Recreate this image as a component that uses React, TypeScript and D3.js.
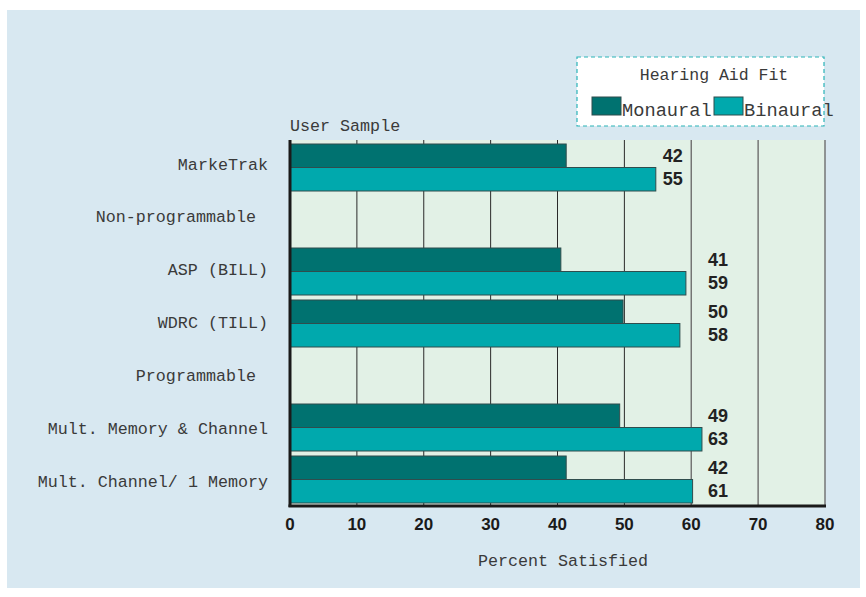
import React from "react";
import * as d3 from "d3";

const categories = [
  "MarkeTrak",
  "Non-programmable",
  "ASP (BILL)",
  "WDRC (TILL)",
  "Programmable",
  "Mult. Memory & Channel",
  "Mult. Channel/ 1 Memory",
];
const headerRows = ["Non-programmable", "Programmable"];
const series = ["Monaural", "Binaural"];
// bar lengths as drawn in the picture
const monaural: (number | null)[] = [41.3, null, 40.5, 49.8, null, 49.3, 41.3];
const binaural: (number | null)[] = [54.7, null, 59.2, 58.3, null, 61.6, 60.2];
// printed value labels
const monauralLabels = ["42", "", "41", "50", "", "49", "42"];
const binauralLabels = ["55", "", "59", "58", "", "63", "61"];
const xTicks = [0, 10, 20, 30, 40, 50, 60, 70, 80];

const colors: Record<string, string> = { Monaural: "#007270", Binaural: "#00a9ad" };
const mono = "'Liberation Mono', 'Courier New', monospace";
const sans = "'Liberation Sans', Arial, sans-serif";

export default function App() {
  const W = 866, H = 597;
  const x = d3.scaleLinear().domain([0, 80]).range([290, 825]);
  const y = d3.scaleBand<string>().domain(categories).range([140, 504]);
  const ySub = d3.scaleBand<string>().domain(series).range([4, y.bandwidth() - 1]);
  const yLabel = d3.scalePoint<string>().domain(categories).range([165, 482]);
  const plotTop = 140, plotBottom = 506;

  return (
    <svg width={W} height={H} style={{ position: "absolute", left: 0, top: 0 }}>
      <rect x={0} y={0} width={W} height={H} fill="#ffffff" />
      <rect x={7} y={10} width={853} height={578} fill="#d8e8f1" />
      {/* plot background */}
      <rect x={x(0)} y={plotTop} width={x(80) - x(0)} height={plotBottom - plotTop} fill="#e2f1e6" />
      {/* grid lines */}
      {xTicks.filter((t) => t > 0).map((t) => (
        <line key={t} x1={x(t)} x2={x(t)} y1={plotTop} y2={plotBottom}
          stroke={t <= 50 ? "#2a2a2a" : "#6e6e6e"} strokeWidth={t <= 50 ? 1 : 1.4} />
      ))}
      {/* bars */}
      {categories.map((c, i) => {
        const vals = [monaural[i], binaural[i]];
        return series.map((s, j) => {
          const v = vals[j];
          if (v == null) return null;
          const by = (y(c) as number) + (ySub(s) as number);
          return (
            <rect key={c + s} x={x(0)} y={by} width={x(v) - x(0)} height={ySub.bandwidth()}
              fill={colors[s]} stroke="#2f4d4d" strokeWidth={1} />
          );
        });
      })}
      {/* value labels */}
      {categories.map((c, i) => {
        const b = binaural[i];
        if (b == null) return null;
        const lx = b < 56 ? x(b) + 17 : x(64);
        const labs = [monauralLabels[i], binauralLabels[i]];
        return series.map((s, j) => (
          <text key={"l" + c + s} x={lx}
            y={(y(c) as number) + (ySub(s) as number) + ySub.bandwidth() / 2}
            textAnchor="middle" dominantBaseline="central" fontFamily={sans}
            fontWeight="bold" fontSize={18} fill="#222">{labs[j]}</text>
        ));
      })}
      {/* axes */}
      <line x1={x(0)} x2={x(0)} y1={plotTop} y2={plotBottom + 1} stroke="#1a1a1a" strokeWidth={3} />
      <line x1={x(0) - 1.5} x2={x(80) + 1} y1={plotBottom} y2={plotBottom} stroke="#1a1a1a" strokeWidth={3} />
      {xTicks.map((t) => (
        <text key={"t" + t} x={x(t)} y={524} textAnchor="middle" dominantBaseline="central"
          fontFamily={sans} fontWeight="bold" fontSize={17} fill="#1a1a1a">{t}</text>
      ))}
      {/* category labels */}
      {categories.map((c) => (
        <text key={"c" + c} x={headerRows.includes(c) ? 256 : 268}
          y={yLabel(c) as number}
          textAnchor="end" dominantBaseline="central" fontFamily={mono} fontSize={16.7}
          fill="#3a3a3a">{c}</text>
      ))}
      <text x={290} y={131} fontFamily={mono} fontSize={16.7} fill="#3a3a3a">User Sample</text>
      <text x={563} y={566} textAnchor="middle" fontFamily={mono} fontSize={16.7} fill="#3a3a3a">Percent Satisfied</text>
      {/* legend */}
      <rect x={577} y={57} width={247} height={69} fill="#ffffff" stroke="#2ab3b8"
        strokeWidth={1.2} strokeDasharray="4,3" />
      <text x={714} y={80} textAnchor="middle" fontFamily={mono} fontSize={16.5} fill="#3a3a3a">Hearing Aid Fit</text>
      {series.map((s, j) => {
        const lx = j === 0 ? 592 : 714;
        return (
          <g key={"lg" + s}>
            <rect x={lx} y={97} width={29} height={18} fill={colors[s]} stroke="#2f4d4d" strokeWidth={1} />
            <text x={lx + 30} y={116} fontFamily={mono} fontSize={18.7} fill="#3a3a3a">{s}</text>
          </g>
        );
      })}
    </svg>
  );
}
